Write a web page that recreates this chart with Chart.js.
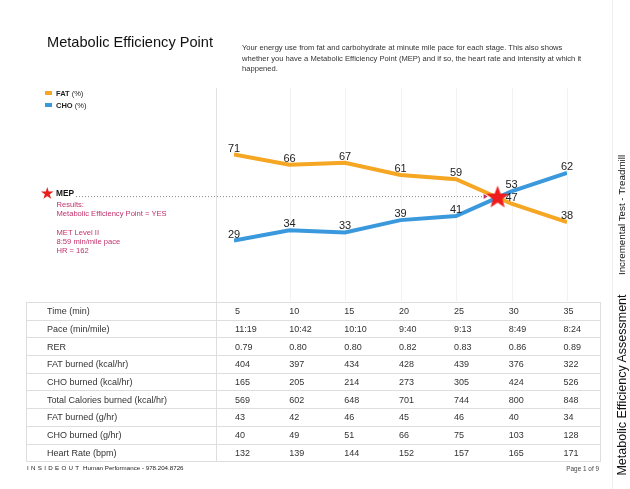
<!DOCTYPE html>
<html>
<head>
<meta charset="utf-8">
<script src="https://cdn.jsdelivr.net/npm/chart.js@4.4.0/dist/chart.umd.min.js"></script>
<style>
  body { margin: 0; background: #fff; font-family: "Liberation Sans", Arial, sans-serif; }
  #page { position: relative; width: 630px; height: 489px; overflow: hidden; }
  #chart { position: absolute; left: 0; top: 0; }
  .abs { position: absolute; white-space: nowrap; }
  #title { left: 47px; top: 34px; font-size: 14.6px; color: #111; }
  #desc { left: 242px; top: 43px; font-size: 7.6px; line-height: 10.6px; color: #333; white-space: normal; width: 345px; }
  .leg { left: 45px; font-size: 7.5px; color: #222; }
  .leg i { display: inline-block; width: 7px; height: 4px; margin-right: 4px; vertical-align: 1px; }
  #mep { left: 41px; top: 185px; font-size: 8.3px; font-weight: bold; color: #111; }
  #mep span { color: #e8201c; font-size: 14px; vertical-align: -2px; margin-right: 2px; }
  #res { left: 56.5px; top: 200px; font-size: 7.6px; line-height: 9.2px; color: #c0306b; }
  #tbl { position: absolute; left: 26px; top: 302px; border-collapse: collapse; table-layout: fixed; width: 575px; font-size: 9px; color: #333; }
  #tbl td { height: 16.7px; padding: 0; border-top: 1px solid #dedede; border-bottom: 1px solid #dedede; overflow: hidden; white-space: nowrap; }
  #tbl td.lab { padding-left: 20px; border-left: 1px solid #dedede; border-right: 1px solid #dedede; }
  #tbl td.val { padding-left: 18px; }
  #tbl td.last { border-right: 1px solid #dedede; }
  #foot { left: 27px; top: 464px; font-size: 6.2px; color: #222; }
  #foot b { letter-spacing: 2.3px; font-weight: normal; }
  #page1 { right: 31px; top: 465px; font-size: 6.4px; color: #444; }
  #sep { position: absolute; left: 612px; top: 0; width: 1px; height: 489px; background: #eee; }
  .rot { position: absolute; transform: translate(-50%, -50%) rotate(-90deg); white-space: nowrap; color: #111; }
</style>
</head>
<body>
<div id="page">
  <canvas id="chart" width="630" height="489"></canvas>
  <div id="sep"></div>
  <div class="abs" id="title">Metabolic Efficiency Point</div>
  <div class="abs" id="desc">Your energy use from fat and carbohydrate at minute mile pace for each stage. This also shows whether you have a Metabolic Efficiency Point (MEP) and if so, the heart rate and intensity at which it happened.</div>
  <div class="abs leg" style="top:89px"><i style="background:#f5a623"></i><b>FAT</b> (%)</div>
  <div class="abs leg" style="top:101px"><i style="background:#3a98dd"></i><b>CHO</b> (%)</div>
  <div class="abs" id="mep"><span>★</span>MEP</div>
  <div class="abs" id="res">Results:<br>Metabolic Efficiency Point = YES<br><br>MET Level II<br>8:59 min/mile pace<br>HR = 162</div>
  <table id="tbl"></table>
  <div class="abs" id="foot"><b>INSIDEOUT</b> Human Performance - 978.204.8726</div>
  <div class="abs" id="page1">Page 1 of 9</div>
  <div class="rot" style="left:621px; top:215px; font-size:9.8px;">Incremental Test - Treadmill</div>
  <div class="rot" style="left:622px; top:385px; font-size:12.5px;">Metabolic Efficiency Assessment</div>
</div>
<script>
var times = [5, 10, 15, 20, 25, 30, 35];
var paces = ['11:19', '10:42', '10:10', '9:40', '9:13', '8:49', '8:24'];
var rer = ['0.79', '0.80', '0.80', '0.82', '0.83', '0.86', '0.89'];
var fatKcal = [404, 397, 434, 428, 439, 376, 322];
var choKcal = [165, 205, 214, 273, 305, 424, 526];
var totalKcal = [569, 602, 648, 701, 744, 800, 848];
var fatGrams = [43, 42, 46, 45, 46, 40, 34];
var choGrams = [40, 49, 51, 66, 75, 103, 128];
var heartRate = [132, 139, 144, 152, 157, 165, 171];
var fatPct = [71, 66, 67, 61, 59, 47, 38];
var choPct = [29, 34, 33, 39, 41, 53, 62];
var mepTime = 28.75;
var mepPct = 50;

// table under the chart
var rows = [
  ['Time (min)', times], ['Pace (min/mile)', paces], ['RER', rer],
  ['FAT burned (kcal/hr)', fatKcal], ['CHO burned (kcal/hr)', choKcal],
  ['Total Calories burned (kcal/hr)', totalKcal], ['FAT burned (g/hr)', fatGrams],
  ['CHO burned (g/hr)', choGrams], ['Heart Rate (bpm)', heartRate]
];
var html = '<colgroup><col style="width:190px">';
times.forEach(function() { html += '<col>'; });
html += '</colgroup>';
rows.forEach(function(r) {
  html += '<tr><td class="lab">' + r[0] + '</td>';
  r[1].forEach(function(v, i) {
    html += '<td class="val' + (i == r[1].length - 1 ? ' last' : '') + '">' + v + '</td>';
  });
  html += '</tr>';
});
document.getElementById('tbl').innerHTML = html;

// red star image for the MEP point
function makeStar(r) {
  var c = document.createElement('canvas');
  c.width = c.height = r * 2 + 2;
  var g = c.getContext('2d');
  g.beginPath();
  for (var i = 0; i < 10; i++) {
    var a = -Math.PI / 2 + i * Math.PI / 5;
    var rr = i % 2 ? r * 0.42 : r;
    g.lineTo(r + 1 + rr * Math.cos(a), r + 1 + rr * Math.sin(a));
  }
  g.closePath();
  g.fillStyle = '#ee1c1c';
  g.fill();
  return c;
}

function pts(vals) {
  return vals.map(function(v, i) { return { x: times[i], y: v }; });
}

var decor = {
  id: 'decor',
  beforeDatasetsDraw: function(chart) {
    var ctx = chart.ctx, xs = chart.scales.x, ys = chart.scales.y;
    ctx.save();
    // faint vertical lines
    ctx.strokeStyle = '#f2f2f2';
    ctx.lineWidth = 1;
    times.slice(1).forEach(function(t) {
      var x = Math.round(xs.getPixelForValue(t)) + 0.5;
      ctx.beginPath(); ctx.moveTo(x, 88); ctx.lineTo(x, 301); ctx.stroke();
    });
    ctx.strokeStyle = '#e2e2e2';
    ctx.beginPath(); ctx.moveTo(216.5, 88); ctx.lineTo(216.5, 302); ctx.stroke();
    // dotted MEP line with arrow
    var my = ys.getPixelForValue(mepPct), mx = xs.getPixelForValue(mepTime);
    ctx.strokeStyle = '#888';
    ctx.setLineDash([1, 2]);
    ctx.beginPath(); ctx.moveTo(76, my - 1); ctx.lineTo(mx - 14, my - 1); ctx.stroke();
    ctx.setLineDash([]);
    ctx.fillStyle = '#c0306b';
    ctx.beginPath();
    ctx.moveTo(mx - 10, my - 1); ctx.lineTo(mx - 14, my - 3.5); ctx.lineTo(mx - 14, my + 1.5);
    ctx.closePath(); ctx.fill();
    ctx.restore();
  },
  afterDatasetsDraw: function(chart) {
    var ctx = chart.ctx;
    ctx.save();
    ctx.font = '11px "Liberation Sans", Arial, sans-serif';
    ctx.fillStyle = '#222';
    ctx.textAlign = 'center';
    ctx.textBaseline = 'alphabetic';
    [0, 1].forEach(function(di) {
      chart.getDatasetMeta(di).data.forEach(function(p, i) {
        ctx.fillText(chart.data.datasets[di].data[i].y, p.x, p.y - 3);
      });
    });
    ctx.restore();
  }
};

new Chart(document.getElementById('chart'), {
  type: 'line',
  data: {
    datasets: [{
      label: 'FAT (%)',
      data: pts(fatPct),
      borderColor: '#f5a623',
      borderWidth: 4,
      pointRadius: 0,
      tension: 0,
      order: 2
    }, {
      label: 'CHO (%)',
      data: pts(choPct),
      borderColor: '#3a98dd',
      borderWidth: 4,
      pointRadius: 0,
      tension: 0,
      order: 1
    }, {
      label: 'MEP',
      data: [{ x: mepTime, y: mepPct }],
      showLine: false,
      pointStyle: makeStar(12),
      pointRadius: 12,
      order: 0
    }]
  },
  options: {
    responsive: false,
    animation: false,
    devicePixelRatio: 1,
    layout: { padding: { left: 234, right: 63, top: 88, bottom: 189 } },
    scales: {
      x: { type: 'linear', min: 5, max: 35, display: false },
      y: { min: 0, max: 103.5, display: false }
    },
    plugins: { legend: { display: false }, tooltip: { enabled: false } }
  },
  plugins: [decor]
});
</script>
</body>
</html>
